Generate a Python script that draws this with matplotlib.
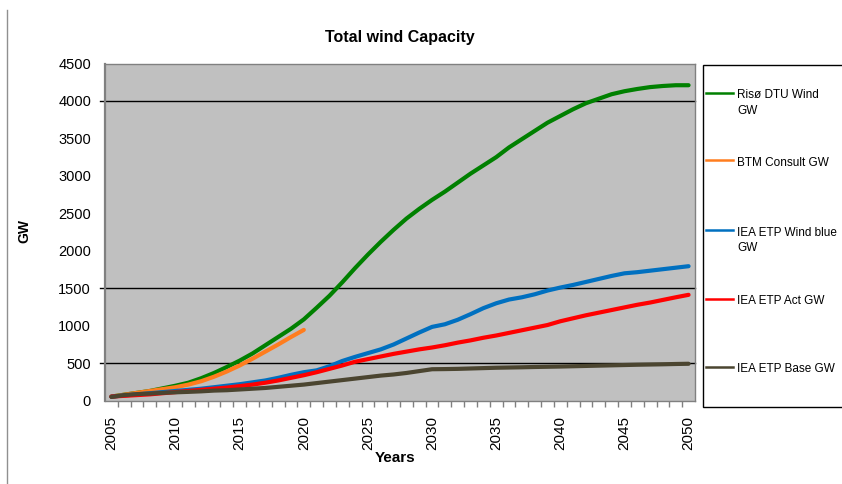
import matplotlib
matplotlib.use("Agg")
import matplotlib.pyplot as plt
from matplotlib.lines import Line2D
from matplotlib.patches import Rectangle

plt.rcParams['font.family'] = ['Liberation Sans', 'DejaVu Sans']

years = list(range(2005, 2051))

riso_dtu = [55, 80, 105, 130, 165, 200, 240, 300, 370, 450,
            535, 630, 740, 850, 960, 1085, 1240, 1400, 1580, 1770,
            1950, 2120, 2280, 2430, 2560, 2680, 2790, 2910, 3030, 3140,
            3250, 3380, 3490, 3600, 3710, 3800, 3890, 3970, 4030, 4090,
            4130, 4160, 4185, 4200, 4210, 4210]

btm_years = list(range(2005, 2021))
btm_consult = [55, 80, 105, 130, 155, 180, 215, 260, 320, 390,
               470, 560, 655, 750, 850, 945]

iea_blue = [55, 70, 85, 100, 115, 130, 145, 160, 180, 200,
            220, 245, 270, 305, 345, 380, 405, 460, 530, 585,
            635, 685, 750, 830, 910, 985, 1020, 1080, 1155, 1235,
            1300, 1350, 1380, 1420, 1470, 1510, 1545, 1585, 1625, 1665,
            1700, 1715, 1735, 1755, 1775, 1795]

iea_act = [55, 65, 75, 85, 100, 115, 130, 145, 160, 175,
           195, 215, 240, 270, 305, 340, 380, 425, 470, 520,
           555, 590, 625, 655, 685, 710, 740, 775, 805, 840,
           870, 905, 940, 975, 1010, 1060, 1100, 1140, 1175, 1210,
           1245, 1280, 1310, 1345, 1380, 1413]

iea_base = [50, 75, 88, 95, 105, 112, 118, 125, 135, 140,
            150, 160, 170, 185, 200, 215, 235, 255, 275, 295,
            315, 335, 350, 370, 395, 420, 422, 425, 430, 435,
            440, 443, 446, 450, 453, 456, 460, 464, 468, 472,
            476, 480, 483, 486, 490, 493]

labels = ["Risø DTU Wind\nGW", "BTM Consult GW", "IEA ETP Wind blue\nGW",
          "IEA ETP Act GW", "IEA ETP Base GW"]
colors = ["#008000", "#FF7D1E", "#0070C0", "#FF0000", "#4B4530"]

fig = plt.figure(figsize=(8.42, 4.84), dpi=100)
ax = fig.add_axes([0.1247, 0.1721, 0.7007, 0.6967])
ax.set_facecolor("#C0C0C0")

series = [(years, riso_dtu), (btm_years, btm_consult), (years, iea_blue),
          (years, iea_act), (years, iea_base)]
for (xs, ys), c in zip(series, colors):
    ax.plot(xs, ys, color=c, lw=3.0, solid_capstyle="round", zorder=3)

ax.set_xlim(2004.5, 2050.5)
ax.set_ylim(0, 4500)

# horizontal lines, a little past the left edge like tick marks
for v in [500, 1500, 4000]:
    ax.plot([-0.009, 1], [v, v], color="black", lw=1.0,
            transform=ax.get_yaxis_transform(), clip_on=False, zorder=2)

ax.set_yticks(range(0, 4501, 500))
ax.tick_params(axis="y", length=0, pad=10, labelsize=10.5)
ax.set_xticks(range(2005, 2051, 5))
ax.set_xticks([y + 0.5 for y in range(2005, 2050)], minor=True)
ax.tick_params(axis="x", which="major", length=0, pad=11, labelsize=11,
               rotation=90)
ax.tick_params(axis="x", which="minor", length=4, width=1, color="#808080",
               direction="out")

for s in ax.spines.values():
    s.set_color("#808080")
    s.set_linewidth(1.0)
ax.spines["left"].set_linewidth(1.6)

fig.text(0.475, 0.923, "Total wind Capacity", ha="center", va="center",
         fontsize=11.5, fontweight="bold")
fig.text(0.029, 0.523, "GW", ha="center", va="center", rotation=90,
         fontsize=10, fontweight="bold")
fig.text(0.469, 0.054, "Years", ha="center", va="center",
         fontsize=11, fontweight="bold")

# outer frame line on the left
fig.add_artist(Line2D([0.008, 0.008], [0.0, 0.98], color="#909090", lw=1.0,
                      transform=fig.transFigure))

# legend box drawn by hand in pixel positions
W, H = 842.0, 484.0
fig.add_artist(Rectangle((703 / W, 1 - 407 / H), 160 / W, 342 / H,
                         transform=fig.transFigure, facecolor="white",
                         edgecolor="black", lw=1.0))
rows = [92.5, 160, 230, 299, 367]
for lab, c, yy in zip(labels, colors, rows):
    fig.add_artist(Line2D([706 / W, 733 / W], [1 - yy / H, 1 - yy / H],
                          color=c, lw=1.8, transform=fig.transFigure))
    fig.text(737 / W, 1 - (yy - 3.5) / H, lab, ha="left", va="top",
             fontsize=8.5, linespacing=1.4)

fig.savefig("out.png", dpi=100)
